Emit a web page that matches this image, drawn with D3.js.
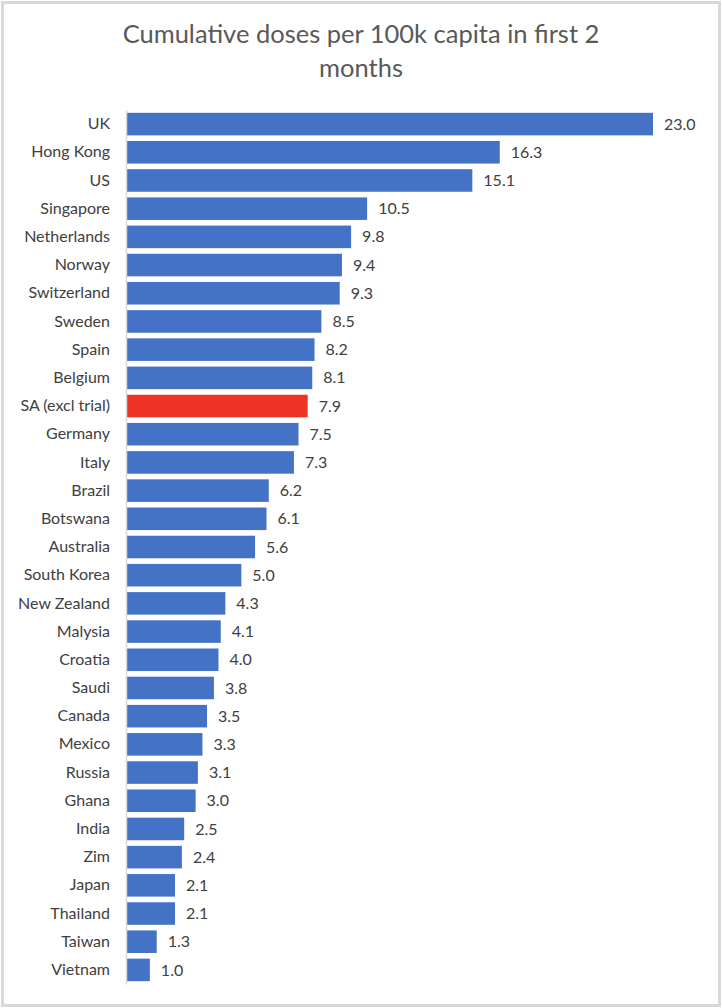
<!DOCTYPE html>
<html>
<head>
<meta charset="utf-8">
<script src="https://cdn.jsdelivr.net/npm/d3@7"></script>
<style>
  body { margin: 0; background: #fff; }
  text { font-family: Lato, "Open Sans", sans-serif; fill: #404040; }
</style>
</head>
<body>
<script>
// chart data
var countries = ["UK", "Hong Kong", "US", "Singapore", "Netherlands", "Norway",
  "Switzerland", "Sweden", "Spain", "Belgium", "SA (excl trial)", "Germany",
  "Italy", "Brazil", "Botswana", "Australia", "South Korea", "New Zealand",
  "Malysia", "Croatia", "Saudi", "Canada", "Mexico", "Russia", "Ghana",
  "India", "Zim", "Japan", "Thailand", "Taiwan", "Vietnam"];
var doses = [23.0, 16.3, 15.1, 10.5, 9.8, 9.4, 9.3, 8.5, 8.2, 8.1, 7.9, 7.5,
  7.3, 6.2, 6.1, 5.6, 5.0, 4.3, 4.1, 4.0, 3.8, 3.5, 3.3, 3.1, 3.0,
  2.5, 2.4, 2.1, 2.1, 1.3, 1.0];
var highlight = ["SA (excl trial)"];
var titleLines = ["Cumulative doses per 100k capita in first 2", "months"];

var W = 722, H = 1008;

var svg = d3.select("body").append("svg")
    .attr("width", W)
    .attr("height", H);

// outer frame
svg.append("rect")
    .attr("x", 2.5).attr("y", 2.5)
    .attr("width", W - 5).attr("height", H - 5)
    .attr("fill", "#fff")
    .attr("stroke", "#d9d9d9")
    .attr("stroke-width", 3);

// title
svg.append("g").selectAll("text")
    .data(titleLines)
  .enter().append("text")
    .attr("x", 361)
    .attr("y", function(d, i) { return 43 + i * 34; })
    .attr("text-anchor", "middle")
    .style("font-size", "25.5px")
    .style("fill", "#595959")
    .text(function(d) { return d; });

var x = d3.scaleLinear()
    .domain([0, 23])
    .range([127, 653]);

var y = d3.scaleBand()
    .domain(countries)
    .range([110, 984])
    .paddingInner(0.2)
    .paddingOuter(0.1);

var rows = countries.map(function(c, i) { return { name: c, value: doses[i] }; });

// bars
svg.append("g").selectAll("rect")
    .data(rows)
  .enter().append("rect")
    .attr("x", x(0))
    .attr("y", function(d) { return y(d.name); })
    .attr("width", function(d) { return x(d.value) - x(0); })
    .attr("height", y.bandwidth())
    .attr("fill", function(d) { return highlight.indexOf(d.name) >= 0 ? "#ec3326" : "#4472c4"; });

// category axis
var yAxis = svg.append("g")
    .attr("transform", "translate(126,0)")
    .call(d3.axisLeft(y).tickSize(0).tickPadding(16));
yAxis.select(".domain").attr("stroke", "#d9d9d9").attr("stroke-width", 1.5);
yAxis.selectAll("text")
    .style("font-size", "16px")
    .style("font-family", "Lato, 'Open Sans', sans-serif")
    .attr("fill", "#404040");

// value labels
svg.append("g").selectAll("text")
    .data(rows)
  .enter().append("text")
    .attr("x", function(d) { return x(d.value) + 11; })
    .attr("y", function(d) { return y(d.name) + y.bandwidth() / 2; })
    .attr("dy", ".35em")
    .style("font-size", "16px")
    .text(function(d) { return d.value.toFixed(1); });
</script>
</body>
</html>
